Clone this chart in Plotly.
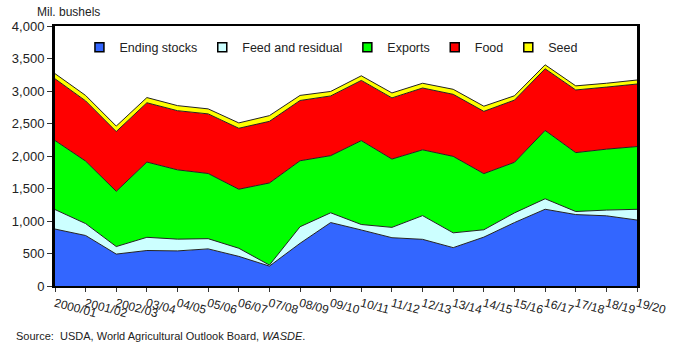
import plotly.graph_objects as go

years = ["2000/01", "2001/02", "2002/03", "03/04", "04/05", "05/06", "06/07", "07/08",
         "08/09", "09/10", "10/11", "11/12", "12/13", "13/14", "14/15", "15/16",
         "16/17", "17/18", "18/19", "19/20"]
ending_stocks = [876, 777, 491, 546, 540, 571, 456, 306, 657, 976, 862, 743, 718, 590, 752, 976, 1181, 1099, 1080, 1015]
feed_residual = [300, 183, 116, 203, 181, 157, 125, 16, 255, 150, 84, 159, 365, 228, 113, 149, 161, 47, 88, 165]
exports = [1062, 962, 850, 1158, 1066, 1003, 908, 1263, 1015, 879, 1291, 1051, 1012, 1176, 864, 778, 1051, 906, 937, 965]
food = [950, 926, 919, 912, 910, 917, 938, 948, 927, 919, 926, 941, 951, 955, 958, 957, 949, 964, 955, 962]
seed = [79, 83, 84, 80, 78, 77, 82, 88, 78, 69, 71, 76, 73, 77, 79, 67, 61, 63, 59, 62]

series = [
    ("Ending stocks", ending_stocks, "#3366FF"),
    ("Feed and residual", feed_residual, "#CCFFFF"),
    ("Exports", exports, "#00FF00"),
    ("Food", food, "#FF0000"),
    ("Seed", seed, "#FFFF00"),
]

fig = go.Figure()
for name, vals, col in series:
    fig.add_trace(go.Scatter(
        x=years, y=vals, name=name, mode="lines", stackgroup="one",
        fillcolor=col, line=dict(color="#222222", width=1),
        showlegend=False, legendgroup=name,
    ))
# legend entries as small bordered squares
for name, vals, col in series:
    fig.add_trace(go.Scatter(
        x=[None], y=[None], name=name, mode="markers", legendgroup=name,
        marker=dict(symbol="square", size=9, color=col, line=dict(color="black", width=1.5)),
        showlegend=True,
    ))

font = "Liberation Sans, Arial, sans-serif"
fig.update_layout(
    width=680, height=351,
    margin=dict(l=48, r=35, t=26, b=65),
    paper_bgcolor="white", plot_bgcolor="white",
    font=dict(family=font, size=12, color="#222222"),
    showlegend=True,
    legend=dict(orientation="h", x=0.475, y=0.975, xanchor="center", yanchor="top",
                bgcolor="rgba(0,0,0,0)", font=dict(size=12.5, color="#222222"),
                traceorder="normal", itemwidth=30),
    xaxis=dict(type="category", range=[0, 19], showgrid=False, zeroline=False,
               tickangle=15, ticks="outside", ticklen=4, tickcolor="#333333",
               showline=True, linecolor="black", linewidth=2, mirror=True,
               tickfont=dict(size=12, family=font)),
    yaxis=dict(range=[0, 4000], dtick=500, tickformat=",d", showgrid=False, zeroline=False,
               ticks="outside", ticklen=5, tickcolor="#333333",
               showline=True, linecolor="black", linewidth=3, mirror=True,
               tickfont=dict(size=13, family=font)),
    annotations=[
        dict(text="Mil. bushels", xref="paper", yref="paper", x=-0.035, y=1.0,
             xanchor="left", yanchor="bottom", yshift=5, showarrow=False,
             font=dict(size=12, color="#222222")),
        dict(text="Source:  USDA, World Agricultural Outlook Board, <i>WASDE</i>.",
             xref="paper", yref="paper", x=-0.07, y=0, xanchor="left", yanchor="top",
             yshift=-42, showarrow=False, font=dict(size=11, color="#222222")),
    ],
)

fig.write_html("out.html")
